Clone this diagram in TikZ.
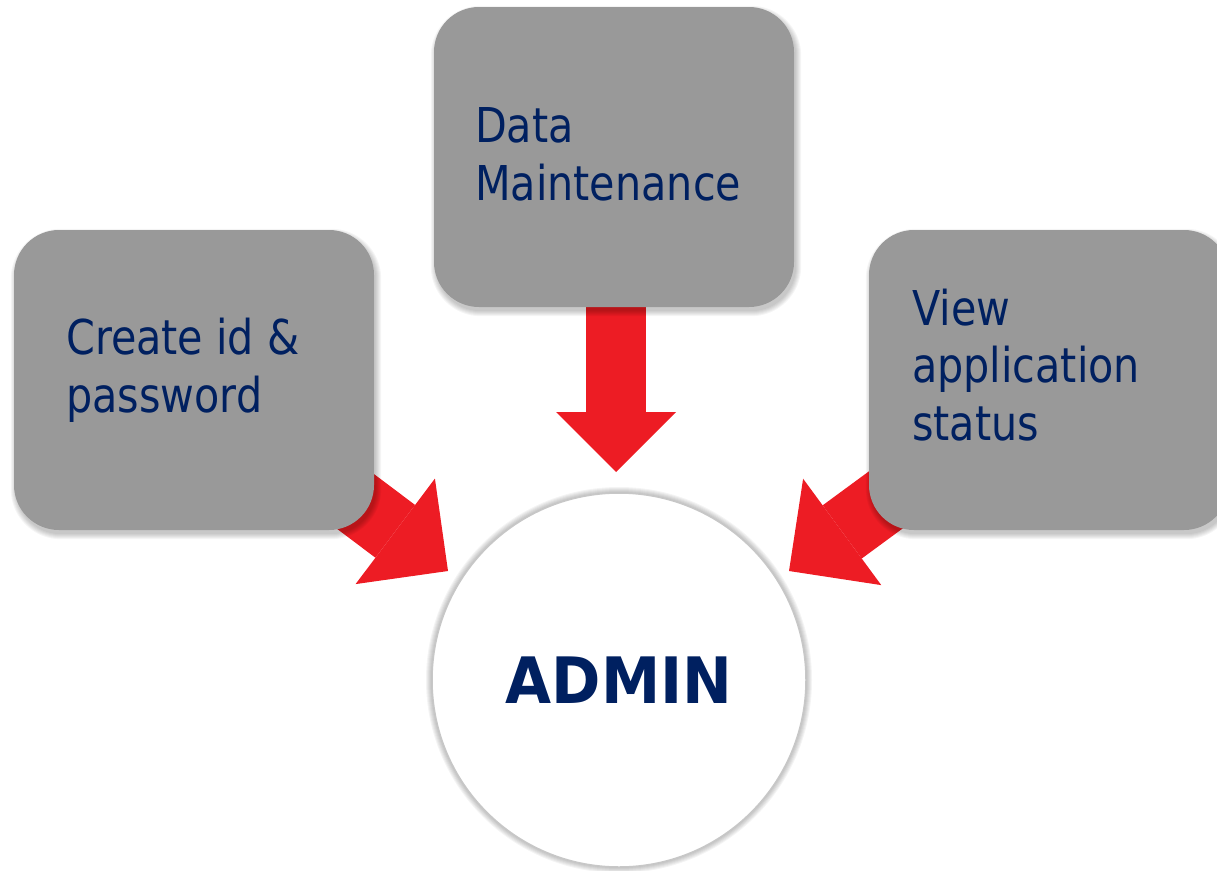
\documentclass[tikz,border=0pt]{standalone}
\usepackage{fontspec}
\setmainfont{DejaVu Sans}[FakeStretch=0.86]
\newfontfamily\adminfont{DejaVu Sans}[FakeStretch=0.93]
\usetikzlibrary{arrows.meta,backgrounds,calc}
\definecolor{navy}{HTML}{002060}
\definecolor{boxgray}{HTML}{999999}
\definecolor{arrowred}{HTML}{ED1C24}
\begin{document}
\begin{tikzpicture}[x=1pt,y=-1pt,
  box/.style={rectangle, rounded corners=45pt, fill=boxgray, minimum width=360pt, minimum height=300pt, inner sep=0pt},
  lbl/.style={text=navy, font=\fontsize{48}{57.5}\selectfont, align=left, inner sep=0pt, anchor=base west},
  fat/.style={draw=arrowred, line width=60pt, -{Triangle[width=120pt,length=60pt,line width=0pt]}},
  fatd/.style={draw=arrowred, line width=66pt, -{Triangle[width=132pt,length=66pt,line width=0pt]}},
  hub/.style={circle, fill=white, draw=black!22, line width=1.5pt, minimum size=374pt, inner sep=0pt,
    text=navy, font=\adminfont\bfseries\fontsize{64}{70}\selectfont}
]
\useasboundingbox (0,0) rectangle (1217,870);
\clip (0,0) rectangle (1217,870);
\node[box] (left) at (194,380) {};
\node[box] (top) at (614,157) {};
\node[box] (right) at (1049,380) {};
\node[hub] (admin) at (619,680) {ADMIN};
\coordinate (tL) at (448,571);
\coordinate (tT) at (616,472);
\coordinate (tR) at (789,571);
\begin{scope}[on background layer]
  \draw[fatd] (left.center) -- (tL);
  \draw[fat] (top.center -| tT) -- (tT);
  \draw[fatd] (right.center) -- (tR);
  \foreach \n in {left,top,right}
    \foreach \k in {0,...,5}
      \fill[black, opacity=0.04, rounded corners=45+\k] ($(\n.north west)+(2-\k,4-\k)$) rectangle ($(\n.south east)+(2+\k,4+\k)$);
  \foreach \k in {1,...,6}
    \fill[black, opacity=0.045] (admin.center) circle (187+\k);
\end{scope}
\node[lbl] (t1) at (66,412) {Create id \&\\password};
\node[lbl] (t2) at (475,200) {Data\\Maintenance};
\node[lbl] (t3) at (912,440) {View\\application\\status};
\end{tikzpicture}
\end{document}
